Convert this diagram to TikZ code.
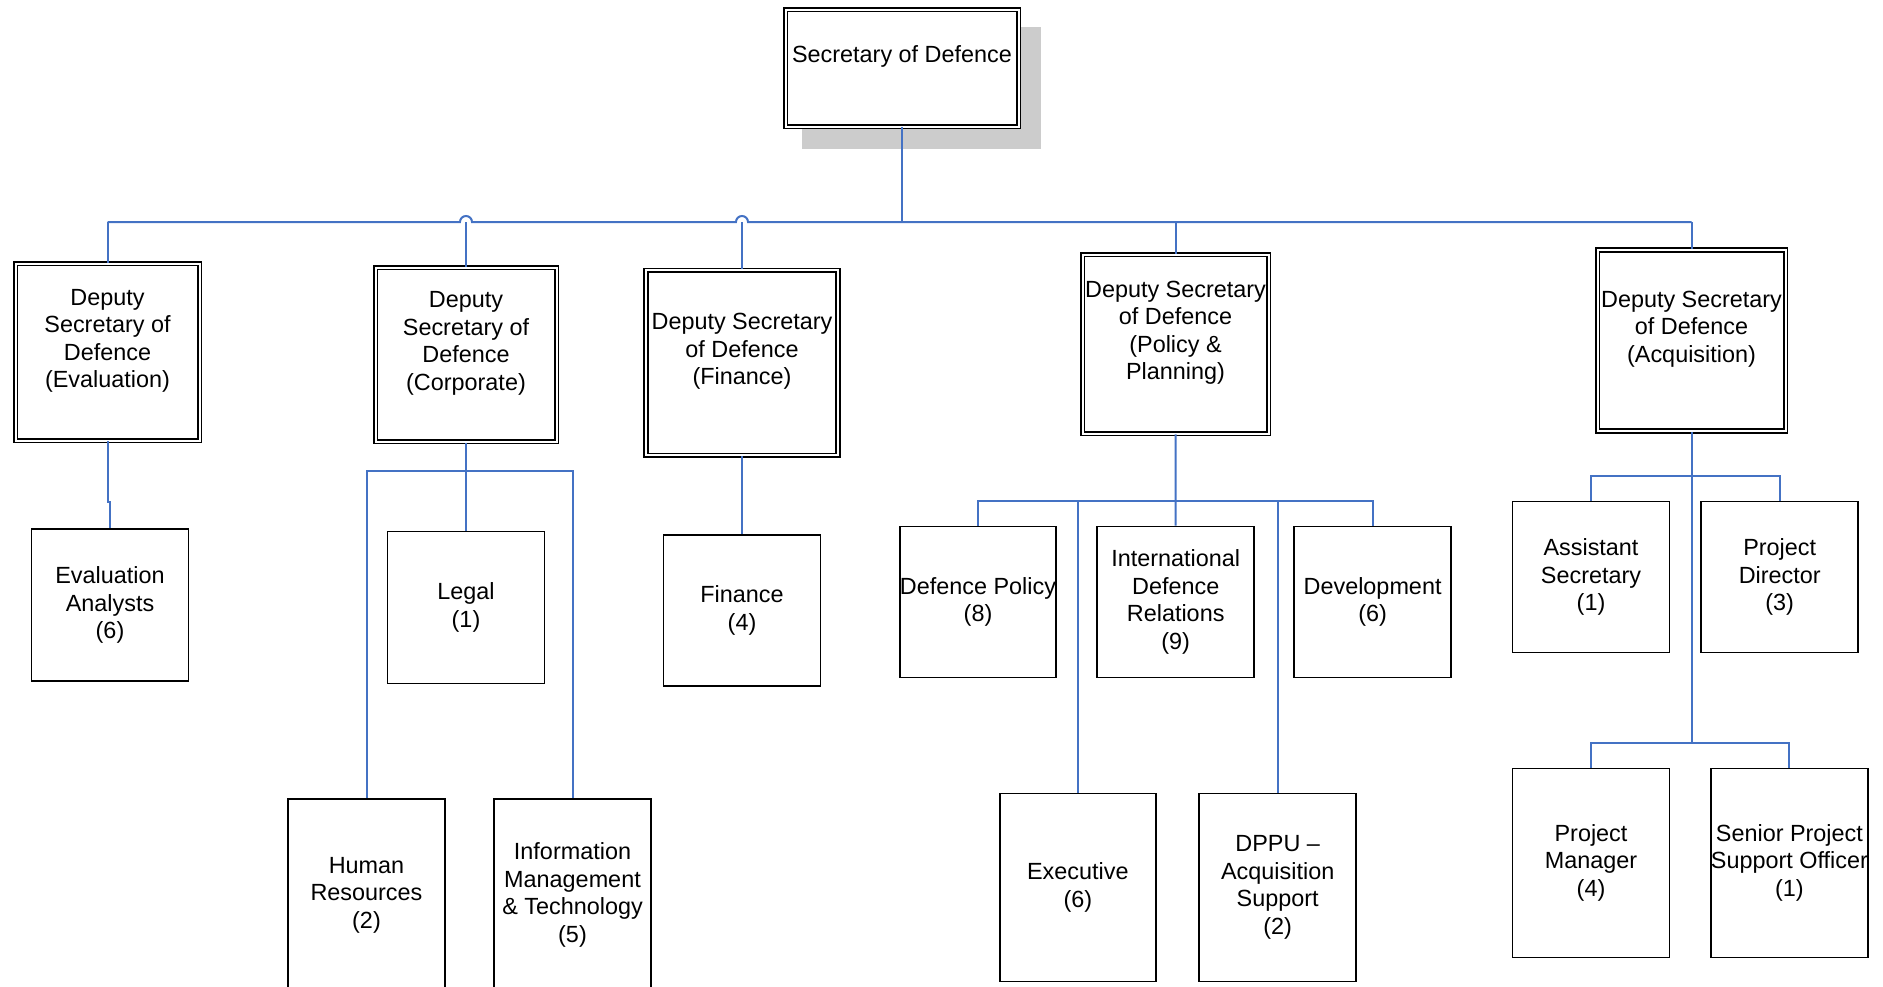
\documentclass[tikz,border=0pt]{standalone}
\usepackage{fontspec}
\setmainfont{Liberation Sans}
\definecolor{linkblue}{RGB}{68,114,196}
\begin{document}
\begin{tikzpicture}[x=1pt,y=-1pt,line join=miter,
    unit/.style={draw=black,fill=white,line width=1.6pt,inner sep=0pt,align=center,
      font=\fontsize{23.4}{27.5}\selectfont},
    head/.style={unit,double=white,double distance=2pt},
    link/.style={draw=linkblue,line width=2pt}]
  \useasboundingbox (0,0) rectangle (1883,986);
  \clip (0,0) rectangle (1883,986);

  % secretary and shadow
  \fill[black!20] (802,27) rectangle (1041,149);
  \node[head,minimum width=233,minimum height=117] (sec) at (902,68) {Secretary of Defence\\\mbox{}};

  % deputies
  \node[head,minimum width=184,minimum height=177] (eval) at (107.5,352) {Deputy\\Secretary of\\Defence\\(Evaluation)\\\mbox{}};
  \node[head,minimum width=181,minimum height=174] (corp) at (466,354.8) {Deputy\\Secretary of\\Defence\\(Corporate)\\\mbox{}};
  \node[head,minimum width=192,minimum height=185] (fin) at (742,362.6) {Deputy Secretary\\of Defence\\(Finance)\\\mbox{}};
  \node[head,minimum width=186,minimum height=179] (pol) at (1175.5,344) {Deputy Secretary\\of Defence\\(Policy \&\\Planning)\\\mbox{}};
  \node[head,minimum width=188,minimum height=181] (acq) at (1691.5,340.5) {Deputy Secretary\\of Defence\\(Acquisition)\\\mbox{}};

  % sections
  \node[unit,minimum width=157,minimum height=152] (evan) at (110,605) {Evaluation\\Analysts\\(6)};
  \node[unit,minimum width=157,minimum height=152] (legal) at (466,607.6) {Legal\\(1)};
  \node[unit,minimum width=157,minimum height=192] (hr) at (366.5,895) {Human\\Resources\\(2)};
  \node[unit,minimum width=157,minimum height=192] (imt) at (572.5,895) {Information\\Management\\\& Technology\\(5)};
  \node[unit,minimum width=157,minimum height=151] (finc) at (742,610.6) {Finance\\(4)};
  \node[unit,minimum width=156,minimum height=151] (dpol) at (978,602) {Defence Policy\\(8)};
  \node[unit,minimum width=157,minimum height=151] (idr) at (1175.7,602) {International\\Defence\\Relations\\(9)};
  \node[unit,minimum width=157,minimum height=151] (dev) at (1372.6,602) {Development\\(6)};
  \node[unit,minimum width=156,minimum height=188] (exec) at (1077.8,887.5) {Executive\\(6)};
  \node[unit,minimum width=157,minimum height=188] (dppu) at (1277.7,887.5) {DPPU --\\Acquisition\\Support\\(2)};
  \node[unit,minimum width=157,minimum height=151] (asec) at (1591,577) {Assistant\\Secretary\\(1)};
  \node[unit,minimum width=157,minimum height=151] (pdir) at (1779.7,577) {Project\\Director\\(3)};
  \node[unit,minimum width=157,minimum height=189] (pman) at (1591,862.8) {Project\\Manager\\(4)};
  \node[unit,minimum width=157,minimum height=189] (spso) at (1789.4,862.8) {Senior Project\\Support Officer\\(1)};

  % top bus, with hops
  \coordinate (bus) at (902,222);
  \draw[link] (sec.south) -- (bus);
  \draw[link] (eval.north |- bus) -- ([xshift=-6pt]corp.north |- bus) arc (180:360:6)
    -- ([xshift=-6pt]fin.north |- bus) arc (180:360:6) -- (acq.north |- bus);
  \draw[link] (eval.north) -- (eval.north |- bus);
  \draw[link] (corp.north) -- (corp.north |- bus);
  \draw[link] (fin.north) -- (fin.north |- bus);
  \draw[link] (pol.north) -- (pol.north |- bus);
  \draw[link] (acq.north) -- (acq.north |- bus);

  % evaluation
  \draw[link] (eval.south) -- ++(0,61) -| (evan.north);

  % corporate
  \coordinate (cbus) at (466,471);
  \draw[link] (corp.south) -- (legal.north);
  \draw[link] (hr.north) |- (cbus) -| (imt.north);

  % finance
  \draw[link] (fin.south) -- (finc.north);

  % policy
  \coordinate (pbus) at (1175.7,501);
  \draw[link] (pol.south) -- (idr.north);
  \draw[link] (dpol.north) |- (pbus) -| (dev.north);
  \draw[link] (exec.north) -- (exec.north |- pbus);
  \draw[link] (dppu.north) -- (dppu.north |- pbus);

  % acquisition
  \coordinate (abus) at (1691.5,476);
  \coordinate (abus2) at (1691.5,743);
  \draw[link] (acq.south) -- (abus2);
  \draw[link] (asec.north) |- (abus) -| (pdir.north);
  \draw[link] (pman.north) |- (abus2) -| (spso.north);
\end{tikzpicture}
\end{document}
